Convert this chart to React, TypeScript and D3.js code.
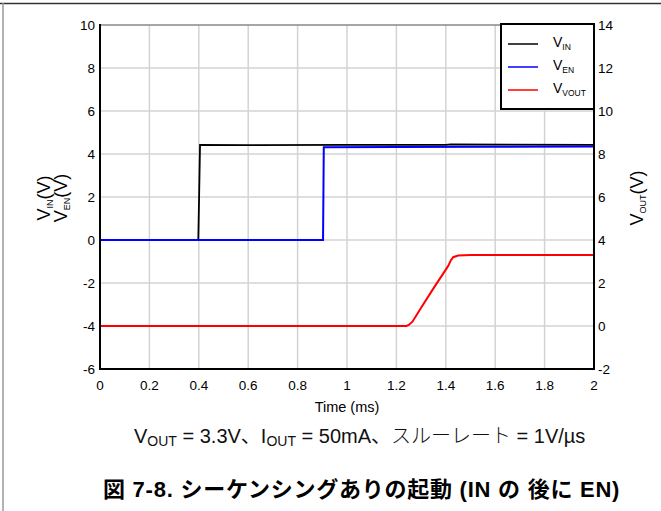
import React from "react";
import * as d3 from "d3";

const W = 661;
const H = 511;

const xTicks = [0, 0.2, 0.4, 0.6, 0.8, 1, 1.2, 1.4, 1.6, 1.8, 2];
const leftTicks = [-6, -4, -2, 0, 2, 4, 6, 8, 10];
const rightTicks = [-2, 0, 2, 4, 6, 8, 10, 12, 14];

const vinT = [0, 0.398, 0.405, 0.6, 1.0, 1.4, 1.42, 2];
const vinV = [0, 0, 4.42, 4.41, 4.42, 4.42, 4.45, 4.42];

const venT = [0, 0.903, 0.906, 1.2, 1.6, 2];
const venV = [0, 0, 4.31, 4.33, 4.34, 4.35];

const voutT = [0, 1.24, 1.25, 1.265, 1.3, 1.35, 1.4, 1.41, 1.42, 1.43, 1.45, 1.5, 2];
const voutV = [0, 0, 0.05, 0.2, 0.85, 1.75, 2.62, 2.8, 3.05, 3.2, 3.28, 3.3, 3.3];

const legendItems = [
  { main: "V", sub: "IN", color: "#000000" },
  { main: "V", sub: "EN", color: "#0000ff" },
  { main: "V", sub: "VOUT", color: "#ff0000" },
];

const M = { left: 100, right: 594, top: 25, bottom: 369 };
const FONT = "Arial, 'Liberation Sans', sans-serif";
const JP = "Arial, 'Liberation Sans', 'Noto Sans CJK JP', sans-serif";

export default function App() {
  const x = d3.scaleLinear().domain([0, 2]).range([M.left, M.right]);
  const yL = d3.scaleLinear().domain([-6, 10]).range([M.bottom, M.top]);
  const yR = d3.scaleLinear().domain([-2, 14]).range([M.bottom, M.top]);

  const lineL = d3
    .line<[number, number]>()
    .x((d) => x(d[0]))
    .y((d) => yL(d[1]));
  const lineR = d3
    .line<[number, number]>()
    .x((d) => x(d[0]))
    .y((d) => yR(d[1]));

  const zip = (a: number[], b: number[]) => a.map((v, i) => [v, b[i]] as [number, number]);

  const legX = 501;
  const legY = 24;
  const legW = 93;
  const legH = 85;

  return (
    <svg
      width={W}
      height={H}
      style={{ position: "absolute", left: 0, top: 0, background: "#fff" }}
      fontFamily={FONT}
    >
      <rect x={0} y={0} width={W} height={H} fill="#fff" />
      {/* outer frame */}
      <line x1={0} x2={W} y1={3.5} y2={3.5} stroke="#333" strokeWidth={1.5} />
      <line x1={3} x2={3} y1={3} y2={H} stroke="#999" strokeWidth={1.5} />

      {/* grid */}
      {xTicks.slice(1, -1).map((t) => (
        <line key={"gx" + t} x1={x(t)} x2={x(t)} y1={M.top} y2={M.bottom} stroke="#d3d3d3" strokeWidth={1.5} />
      ))}
      {leftTicks.slice(1, -1).map((t) => (
        <line key={"gy" + t} x1={M.left} x2={M.right} y1={yL(t)} y2={yL(t)} stroke="#d3d3d3" strokeWidth={1.5} />
      ))}
      {/* top border */}
      <line x1={M.left} x2={M.right} y1={M.top} y2={M.top} stroke="#888" strokeWidth={1.5} />

      {/* data */}
      <path d={lineL(zip(vinT, vinV)) || ""} fill="none" stroke="#000" strokeWidth={1.8} />
      <path d={lineL(zip(venT, venV)) || ""} fill="none" stroke="#0000ff" strokeWidth={2} />
      <path d={lineR(zip(voutT, voutV)) || ""} fill="none" stroke="#ff0000" strokeWidth={2} />

      {/* axes */}
      <line x1={M.left} x2={M.left} y1={M.top - 1} y2={M.bottom + 1} stroke="#000" strokeWidth={2} />
      <line x1={M.right} x2={M.right} y1={M.top - 1} y2={M.bottom + 1} stroke="#000" strokeWidth={2} />
      <line x1={M.left - 1} x2={M.right + 1} y1={M.bottom} y2={M.bottom} stroke="#000" strokeWidth={2} />

      {/* tick labels */}
      {xTicks.map((t) => (
        <text key={"tx" + t} x={x(t)} y={390} fontSize={13.5} textAnchor="middle" fill="#000">
          {String(t)}
        </text>
      ))}
      {leftTicks.map((t) => (
        <text key={"tl" + t} x={95} y={yL(t) + 4.5} fontSize={13.5} textAnchor="end" fill="#000">
          {String(t)}
        </text>
      ))}
      {rightTicks.map((t) => (
        <text key={"tr" + t} x={598} y={yR(t) + 4.5} fontSize={13.5} textAnchor="start" fill="#000">
          {String(t)}
        </text>
      ))}

      {/* axis titles */}
      <text x={347} y={412} fontSize={14.5} textAnchor="middle">Time (ms)</text>
      <text transform="translate(50,198) rotate(-90)" fontSize={18} textAnchor="middle">
        V<tspan fontSize={9} dy={3}>IN</tspan><tspan dy={-3}>(V)</tspan>
      </text>
      <text transform="translate(67,198) rotate(-90)" fontSize={18} textAnchor="middle">
        V<tspan fontSize={9} dy={3}>EN</tspan><tspan dy={-3}>(V)</tspan>
      </text>
      <text transform="translate(643,198) rotate(-90)" fontSize={18} textAnchor="middle">
        V<tspan fontSize={9} dy={3}>OUT</tspan><tspan dy={-3}>(V)</tspan>
      </text>

      {/* legend */}
      <rect x={legX} y={legY} width={legW} height={legH} fill="#fff" stroke="#000" strokeWidth={2} />
      {legendItems.map((it, i) => {
        const cy = legY + 20 + i * 23;
        return (
          <g key={"lg" + i}>
            <line x1={legX + 7} x2={legX + 37} y1={cy} y2={cy} stroke={it.color} strokeWidth={1.5} />
            <text x={legX + 52} y={cy + 3} fontSize={14}>
              {it.main}
              <tspan fontSize={8.5} dy={3}>{it.sub}</tspan>
            </text>
          </g>
        );
      })}

      {/* captions */}
      <text x={134} y={443} fontSize={20} fontFamily={JP} fill="#111">
        <tspan>V</tspan>
        <tspan fontSize={14} dy={3}>OUT</tspan>
        <tspan dy={-3}> = 3.3V</tspan>
        <tspan>、</tspan>
        <tspan>I</tspan>
        <tspan fontSize={14} dy={3}>OUT</tspan>
        <tspan dy={-3}> = 50mA</tspan>
        <tspan>、</tspan>
        <tspan fontWeight={300}>スルーレート</tspan>
        <tspan> = 1V/µs</tspan>
      </text>
      <text
        x={103}
        y={497}
        fontSize={22}
        fontWeight="bold"
        fontFamily={JP}
        fill="#000"
        letterSpacing={0.75}
      >
        図 7-8. シーケンシングありの起動 (IN の 後に EN)
      </text>
    </svg>
  );
}
